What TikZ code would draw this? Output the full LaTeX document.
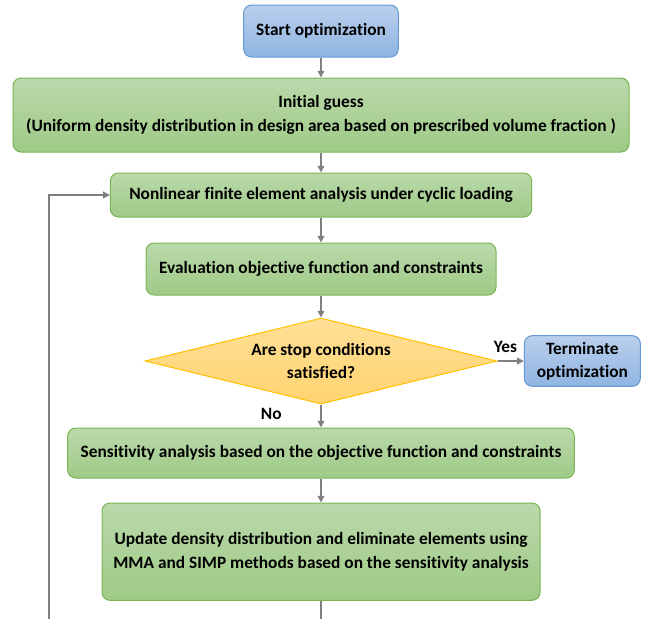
\documentclass[tikz,border=0pt]{standalone}
\usepackage{fontspec}
\setmainfont{Carlito}[Ligatures=NoCommon]
\usetikzlibrary{positioning, shapes.geometric, arrows.meta}

\definecolor{greentop}{RGB}{187,217,171}
\definecolor{greenbot}{RGB}{158,202,134}
\definecolor{greenline}{RGB}{122,180,84}
\definecolor{bluetop}{RGB}{186,207,236}
\definecolor{bluebot}{RGB}{143,181,226}
\definecolor{blueline}{RGB}{100,152,210}
\definecolor{goldtop}{RGB}{255,224,150}
\definecolor{goldbot}{RGB}{255,211,112}
\definecolor{goldline}{RGB}{255,192,0}
\definecolor{flowgray}{RGB}{128,128,128}

\tikzset{
every picture/.style={
line width=0.75pt
}}

\begin{document}
\begin{tikzpicture}[x=0.75pt, y=-0.75pt,
font=\fontsize{13}{17.5}\selectfont\bfseries,
block/.style = {rectangle, rounded corners=6pt, draw=greenline, top color=greentop, bottom color=greenbot, align=center, inner sep=0pt},
endblock/.style = {block, draw=blueline, top color=bluetop, bottom color=bluebot},
decision/.style = {diamond, aspect=4, inner sep=0pt, draw=goldline, top color=goldtop, bottom color=goldbot, align=center},
line/.style = {draw=flowgray, line width=1.1pt, -{Triangle[length=5pt,width=5pt]}},
label/.style = {inner sep=0pt}]

\useasboundingbox (0,0) rectangle (645,619);

\begin{scope}[on grid]

  \node[endblock, minimum width=116pt, minimum height=39pt] (start) at (321,31) {Start optimization};
  \node[block, minimum width=462pt, minimum height=55.5pt] (init) [below=63pt of start]
    {Initial guess\\(Uniform density distribution in design area based on prescribed volume fraction )};
  \node[block, minimum width=316pt, minimum height=33pt] (fea) [below=60pt of init]
    {Nonlinear finite element analysis under cyclic loading};
  \node[block, minimum width=262.5pt, minimum height=39pt] (eval) [below=55.5pt of fea]
    {Evaluation objective function and constraints};
  \node[decision, minimum width=264pt, minimum height=64.5pt] (cond) [below=69pt of eval]
    {Are stop conditions\\satisfied?};
  \node[endblock, minimum width=87pt, minimum height=38pt] (term) [right=196pt of cond]
    {Terminate\\optimization};
  \node[block, minimum width=380pt, minimum height=37.5pt] (sens) [below=69pt of cond]
    {Sensitivity analysis based on the objective function and constraints};
  \node[block, minimum width=328.5pt, minimum height=73pt] (upd) [below=74pt of sens]
    {Update density distribution and eliminate elements using\\MMA and SIMP methods based on the sensitivity analysis};

  \coordinate (loopend) at (49,619);
  \coordinate (updend) at (upd.south |- loopend);

  \draw[line] (start) -- (init);
  \draw[line] (init) -- (fea);
  \draw[line] (fea) -- (eval);
  \draw[line] (eval) -- (cond);
  \draw[line] (cond) -- (term) node[label, pos=0.3, above=6pt] {Yes};
  \draw[line] (cond) -- (sens) node[label, pos=0.4, left=29pt] {No};
  \draw[line] (sens) -- (upd);
  \draw[line, -] (upd) -- (updend);
  \draw[line] (loopend) |- (fea);

\end{scope}
\end{tikzpicture}
\end{document}
